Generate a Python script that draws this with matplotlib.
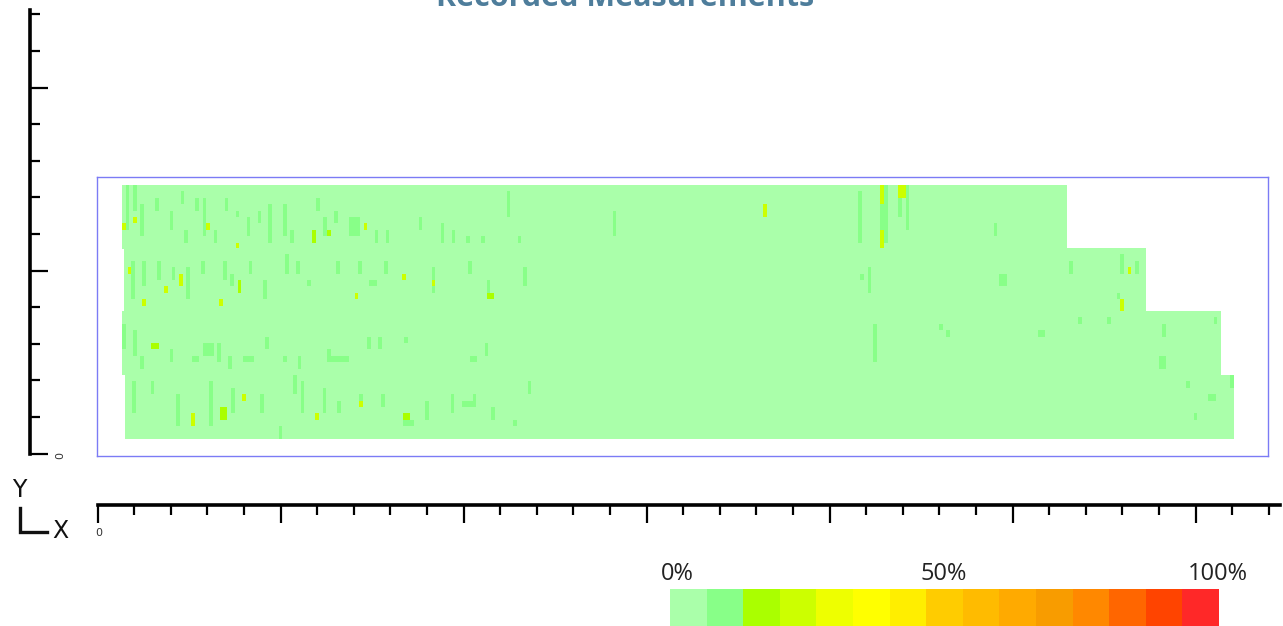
import numpy as np
import matplotlib
matplotlib.use('Agg')
import matplotlib.pyplot as plt
from matplotlib.colors import ListedColormap, BoundaryNorm
from matplotlib.lines import Line2D

W, H = 1283, 626

title = 'Recorded Measurements'

# colour steps of the measurement scale (0% .. 100%)
level_colors = ['#aaffaa', '#88ff88', '#aaff00', '#ccff00', '#eeff00',
                '#ffff00', '#ffee00', '#ffcc00', '#ffbb00', '#ffaa00',
                '#f89c00', '#ff8800', '#ff6600', '#ff4400', '#ff2828']
scale_labels = ['0%', '50%', '100%']
scale_label_pos = [0.2, 7.5, 15.0]

# four scan strips, top to bottom (units of the rulers)
strip_ncols = [258, 279, 300, 303]
strip_x0 = [13.7, 14.8, 13.7, 15.3]
rows_per_strip = 10
cell_w = 2.0
row_h = 3.465
grid_top = 146.6

# cells at level 1 (column, first row from top, rows, columns)
green_col = [1, 3, 5, 9, 13, 16, 17, 20, 22, 25, 28, 31, 34, 37, 40, 44, 46, 53, 55, 58,
             62, 69, 72, 81, 87, 90, 94, 98, 105, 108, 134, 201, 207, 208, 212, 214, 238,
             2, 5, 9, 13, 17, 21, 27, 29, 34, 38, 44, 47, 50, 58, 64, 67, 71, 84, 94, 99,
             109, 201, 203, 239, 258, 272, 276, 271,
             0, 3, 5, 13, 19, 22, 26, 29, 33, 39, 44, 48, 56, 57, 67, 70, 77, 95, 99, 205,
             223, 225, 250, 261, 269, 284, 283, 298,
             2, 7, 14, 23, 29, 37, 42, 46, 48, 54, 58, 64, 70, 76, 82, 89, 92, 95, 100, 106,
             110, 290, 296, 292, 302]
green_row = [0, 0, 3, 2, 4, 1, 7, 2, 2, 7, 2, 4, 5, 4, 3, 3, 7, 2, 5, 4,
             5, 7, 7, 5, 6, 7, 8, 8, 1, 8, 4, 1, 3, 0, 2, 0, 6,
             12, 12, 12, 13, 13, 12, 12, 14, 12, 15, 11, 12, 15, 12, 12, 15, 12, 13, 12, 15,
             13, 14, 13, 14, 12, 11, 12, 17,
             22, 23, 27, 26, 27, 25, 25, 27, 27, 24, 27, 27, 26, 27, 24, 24, 24, 27, 25, 22,
             22, 23, 23, 21, 21, 22, 27, 21,
             31, 31, 33, 31, 32, 33, 38, 30, 31, 32, 34, 33, 33, 37, 34, 33, 34, 33, 35, 37,
             31, 31, 33, 36, 30]
green_h = [7, 4, 5, 2, 3, 2, 2, 2, 6, 2, 2, 1, 3, 2, 6, 5, 2, 2, 3, 2,
           3, 2, 2, 2, 3, 2, 1, 1, 4, 1, 4, 8, 4, 9, 3, 7, 2,
           6, 4, 3, 2, 5, 2, 3, 2, 2, 3, 3, 2, 1, 2, 2, 1, 2, 4, 2, 3,
           3, 1, 4, 2, 2, 3, 2, 1,
           4, 4, 2, 2, 1, 2, 3, 2, 1, 2, 1, 2, 2, 1, 2, 2, 1, 1, 2, 6,
           1, 1, 1, 1, 1, 2, 2, 1,
           5, 2, 5, 7, 4, 3, 2, 3, 5, 4, 2, 2, 2, 1, 3, 3, 1, 2, 2, 1,
           2, 1, 1, 1, 2]
green_w = [1, 1, 1, 1, 1, 1, 1, 1, 1, 1, 1, 1, 1, 1, 1, 1, 1, 1, 1, 1,
           3, 1, 1, 1, 1, 1, 1, 1, 1, 1, 1, 1, 1, 1, 1, 1, 1,
           1, 1, 1, 1, 1, 1, 1, 1, 1, 1, 1, 1, 1, 1, 1, 2, 1, 1, 1, 1,
           1, 1, 1, 2, 1, 1, 1, 1,
           1, 1, 1, 1, 2, 3, 1, 1, 3, 1, 1, 1, 1, 5, 1, 1, 1, 2, 1, 1,
           1, 1, 2, 1, 1, 1, 2, 1,
           1, 1, 1, 1, 1, 1, 1, 1, 1, 1, 1, 1, 1, 3, 1, 1, 3, 1, 1, 1,
           1, 1, 2, 1, 1]

# higher readings (column, first row from top, rows, columns, level)
hot_col = [3, 23, 52, 56, 31, 66, 0, 1, 15, 31, 11, 5, 26, 63, 76, 84, 99, 8, 32, 18,
           26, 64, 52, 76, 175, 207, 212, 207, 274, 272]
hot_row = [5, 6, 7, 7, 9, 6, 6, 13, 14, 15, 16, 18, 18, 17, 14, 15, 17, 25, 33, 36,
           35, 34, 36, 36, 3, 0, 0, 7, 13, 18]
hot_h = [1, 1, 2, 1, 1, 1, 1, 1, 2, 2, 1, 1, 1, 1, 1, 1, 1, 1, 1, 2,
         2, 1, 1, 1, 2, 3, 2, 3, 1, 2]
hot_w = [1, 1, 1, 1, 1, 1, 1, 1, 1, 1, 1, 1, 1, 1, 1, 1, 2, 2, 1, 1,
         2, 1, 1, 2, 1, 1, 2, 1, 1, 1]
hot_lvl = [3, 3, 2, 2, 3, 3, 3, 3, 3, 2, 3, 3, 3, 3, 3, 3, 2, 2, 3, 3,
           2, 3, 3, 2, 3, 3, 3, 3, 3, 3]

PX = 1.83  # pixels per ruler unit


def fig_box(x0, y0, x1, y1):
    return [x0 / W, 1 - y1 / H, (x1 - x0) / W, (y1 - y0) / H]


cmap = ListedColormap(level_colors)
norm = BoundaryNorm(np.arange(len(level_colors) + 1) - 0.5, cmap.N)

# grid of readings, row 0 = top
grid = np.zeros((rows_per_strip * len(strip_ncols), max(strip_ncols)))
for c, r, h, w in zip(green_col, green_row, green_h, green_w):
    grid[r:r + h, c:c + w] = 1
for c, r, h, w, lv in zip(hot_col, hot_row, hot_h, hot_w, hot_lvl):
    grid[r:r + h, c:c + w] = lv

fig = plt.figure(figsize=(W / 100, H / 100), dpi=100)
fig.patch.set_facecolor('white')

# heat map inside its bounding box
ax = fig.add_axes(fig_box(97, 177, 1268, 456))
for k, (nc, x0) in enumerate(zip(strip_ncols, strip_x0)):
    sub = grid[k * rows_per_strip:(k + 1) * rows_per_strip, :nc]
    top = grid_top - k * rows_per_strip * row_h
    ax.imshow(sub, cmap=cmap, norm=norm, origin='upper', aspect='auto',
              interpolation='nearest',
              extent=(x0, x0 + nc * cell_w, top - rows_per_strip * row_h, top))
ax.set_xlim(0, (1268 - 97) / PX)
ax.set_ylim(-(456 - 453.5) / PX, (453.5 - 177) / PX)
ax.set_xticks([])
ax.set_yticks([])
for s in ax.spines.values():
    s.set_color('#7b7bf5')
    s.set_linewidth(1.0)

# vertical ruler
ay = fig.add_axes(fig_box(29.5, 10, 60, 453.5))
ay.set_facecolor('none')
ay.set_ylim(0, (453.5 - 10) / PX)
ay.set_xlim(0, 1)
ay.set_yticks(np.arange(0, 241, 100))
ay.set_yticks(np.arange(0, 241, 20), minor=True)
ay.set_xticks([])
ay.tick_params(axis='y', which='major', direction='in', length=13, width=1.6,
               labelleft=False)
ay.tick_params(axis='y', which='minor', direction='in', length=7, width=1.6)
for name, s in ay.spines.items():
    s.set_visible(name == 'left')
ay.spines['left'].set_linewidth(2.6)
ay.annotate('0', xy=(0, 0), xycoords=('axes fraction', 'data'), xytext=(31, -2),
            textcoords='offset pixels', rotation=90, ha='center', va='center',
            fontsize=8, color='#333333')

# horizontal ruler
ax2 = fig.add_axes(fig_box(97.5, 495, 1283, 505))
ax2.set_facecolor('none')
ax2.set_xlim(0, (1283 - 97.5) / PX)
ax2.set_xticks(np.arange(0, 647, 100))
ax2.set_xticks(np.arange(0, 647, 20), minor=True)
ax2.set_yticks([])
ax2.tick_params(axis='x', which='major', direction='out', length=13, width=1.6,
                labelbottom=False)
ax2.tick_params(axis='x', which='minor', direction='out', length=7, width=1.6)
for name, s in ax2.spines.items():
    s.set_visible(name == 'bottom')
ax2.spines['bottom'].set_linewidth(2.6)
ax2.spines['bottom'].set_bounds(0, (1280 - 97.5) / PX)
ax2.annotate('0', xy=(0, 0), xycoords='data', xytext=(1, -28),
             textcoords='offset pixels', ha='center', va='center',
             fontsize=8, color='#333333')

# axis orientation mark
fig.text(19.5 / W, 1 - 490 / H, 'Y', ha='center', va='center', fontsize=17,
         color='#111111')
fig.text(60 / W, 1 - 531 / H, 'X', ha='center', va='center', fontsize=17,
         color='#111111')
fig.add_artist(Line2D([20 / W, 20 / W, 47 / W],
                      [1 - 508 / H, 1 - 532 / H, 1 - 532 / H],
                      color='#111111', lw=2.4, solid_joinstyle='miter'))

# title (partly above the figure edge)
fig.text(625 / W, 1 - 6 / H, title, ha='center', va='baseline', fontsize=22,
         fontweight='bold', family='Open Sans', color='#4e7d9b')

# colour scale
ac = fig.add_axes(fig_box(670, 589, 1218, 626))
ac.imshow(np.arange(len(level_colors))[None, :], cmap=cmap, norm=norm,
          aspect='auto', extent=(0, len(level_colors), 0, 1))
ac.set_xlim(0, len(level_colors))
ac.set_ylim(0, 1)
ac.axis('off')
for lab, pos in zip(scale_labels, scale_label_pos):
    ac.text(pos, 1 + 9 / 37, lab, ha='center', va='baseline', fontsize=17,
            family='Open Sans', color='#222222', clip_on=False)

fig.savefig('out.png', dpi=100, facecolor='white')
